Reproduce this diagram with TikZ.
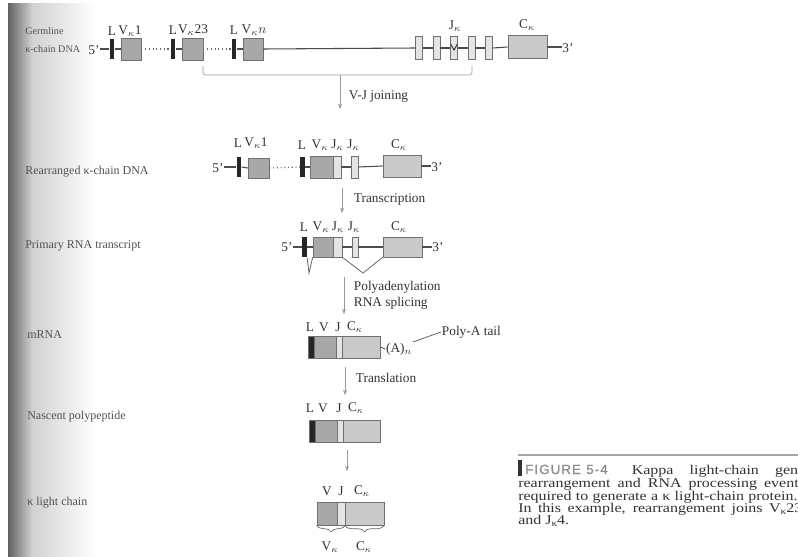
\documentclass[tikz,border=0pt]{standalone}
\usepackage{fontspec}
\setmainfont{Liberation Serif}
\newfontfamily\capsf[LetterSpace=8,FakeBold=0.6]{Liberation Sans}
\newfontfamily\capserif[FakeStretch=1.2]{Liberation Serif}
\usetikzlibrary{arrows.meta,decorations.pathreplacing}
\definecolor{vgray}{HTML}{A8A8A8}
\definecolor{cgray}{HTML}{CACACA}
\definecolor{jgray}{HTML}{E4E4E4}
\definecolor{edge}{HTML}{707070}
\definecolor{ink}{HTML}{333333}
\begin{document}
\begin{tikzpicture}[x=0.75pt,y=-0.75pt,
  txt/.style={font=\fontsize{10}{11}\selectfont, text=ink, inner sep=0.5pt},
  side/.style={font=\fontsize{9}{10}\selectfont, text=ink!85, anchor=west, inner sep=0pt},
  sidesm/.style={font=\fontsize{7.6}{9}\selectfont, text=ink!85, anchor=west, inner sep=0pt},
  captxt/.style={font=\capserif\fontsize{10}{11}\selectfont, text=ink, anchor=base west, inner sep=0pt},
  wd/.style={minimum width=#1*0.75pt},
  ht/.style={minimum height=#1*0.75pt},
  lbar/.style={fill=black!85, draw=none, inner sep=0pt, minimum width=3.5pt, minimum height=15.5pt},
  dbar/.style={fill=black!85, draw=edge, line width=0.5pt, inner sep=0pt},
  vb/.style={fill=vgray, draw=edge, line width=0.5pt, inner sep=0pt},
  cb/.style={fill=cgray, draw=edge, line width=0.5pt, inner sep=0pt},
  jb/.style={fill=jgray, draw=edge, line width=0.5pt, inner sep=0pt},
  dna/.style={draw=black!70, line width=0.8pt},
  dots/.style={draw=black!60, line width=0.8pt, dotted},
  arr/.style={draw=black!40, line width=0.5pt, -{Stealth[length=4pt,width=3pt]}},
  brk/.style={draw=black!40, line width=0.5pt, rounded corners=2pt},
  splice/.style={draw=black!60, line width=0.6pt},
  brc/.style={decorate, decoration={brace, mirror, amplitude=5pt}, draw=black!60, line width=0.5pt}
]
% page and scan shading
\path[use as bounding box] (0,0) rectangle (798,556);
\clip (0,0) rectangle (798,556);
\fill[white] (0,0) rectangle (798,556);
\shade[left color=black!62, right color=black!18] (8,4) rectangle (32,556);
\shade[left color=black!18, right color=white] (32,4) rectangle (95,556);

% ---------- left labels ----------
\node[sidesm] (sg1) at (25,31) {Germline};
\node[sidesm] (sg2) at (25,49) {κ-chain DNA};
\node[side] (sr) at (25,172) {Rearranged κ-chain DNA};
\node[side] (sp) at (25,246) {Primary RNA transcript};
\node[side] (sm) at (27,335) {mRNA};
\node[side] (sn) at (27,417) {Nascent polypeptide};
\node[side] (sk) at (27,503) {κ light chain};

% ---------- row 1: germline ----------
\node[txt] (g5) at (94,50) {5'};
\node[lbar] (gL1) at (112,49) {};
\node[vb, wd=20, ht=22] (gV1) at (131,49) {};
\node[lbar] (gL2) at (173,49) {};
\node[vb, wd=21, ht=22] (gV2) at (192.5,49) {};
\node[lbar] (gL3) at (234,49) {};
\node[vb, wd=20, ht=22] (gV3) at (253,49) {};
\foreach \i/\x in {1/419,2/436.5,3/454,4/471.5,5/489}
  \node[jb, wd=7, ht=23] (gJ\i) at (\x,48) {};
\node[cb, wd=39, ht=23] (gC) at (527.5,47) {};
\node[txt] (g3) at (568,48) {3'};
\draw[dna] (g5.east |- gL1.west) -- (gL1.west);
\draw[dna] (gL1.east) -- (gV1.west);
\draw[dots] (gV1.east) -- (gL2.west);
\draw[dna] (gL2.east) -- (gV2.west);
\draw[dots] (gV2.east) -- (gL3.west);
\draw[dna] (gL3.east) -- (gV3.west);
\draw[dna] (gV3.east) -- (gJ1.west);
\draw[dna] (gJ1.east) -- (gJ2.west);
\draw[dna] (gJ2.east) -- (gJ3.west);
\draw[dna] (gJ3.east) -- (gJ4.west);
\draw[dna] (gJ4.east) -- (gJ5.west);
\draw[dna] (gJ5.east) -- (gC.west);
\draw[dna] (gC.east) -- (g3.west |- gC.east);
\draw[black!75, line width=0.8pt] (gJ3.center) ++(-3.5,-4) -- ++(3.5,6) -- ++(3.5,-6);
\node[txt] (gl1) at (112,31) {L};
\node[txt] (gv1) at (130,31) {V$_\kappa$1};
\node[txt] (gl2) at (173,30) {L};
\node[txt] (gv2) at (193,30) {V$_\kappa$23};
\node[txt] (gl3) at (234,30) {L};
\node[txt] (gv3) at (254,30) {V$_\kappa n$};
\node[txt] (gjl) at (455,26) {J$_\kappa$};
\node[txt] (gcl) at (527,25) {C$_\kappa$};

% bracket and V-J joining
\coordinate (bl) at (203,66);
\coordinate (bm) at (340,75);
\coordinate (br) at (472,66);
\coordinate (a1) at (340,109);
\draw[brk] (bl) |- (bm) -| (br);
\draw[arr] (bm) -- (a1);
\node[txt, anchor=west] (vj) at (348,97) {V-J joining};

% ---------- row 2: rearranged ----------
\node[txt] (r5) at (218,168) {5'};
\node[lbar] (rL1) at (239,167) {};
\node[vb, wd=21, ht=20] (rV1) at (258.5,168) {};
\node[lbar] (rL) at (302.5,167) {};
\node[vb, wd=23, ht=22] (rV) at (321.5,167) {};
\node[jb, wd=8, ht=22] (rJf) at (337,167) {};
\node[jb, wd=7, ht=22] (rJ) at (354.5,167) {};
\node[cb, wd=38, ht=22] (rC) at (402,166) {};
\node[txt] (r3) at (437,167) {3'};
\draw[dna] (r5.east |- rL1.west) -- (rL1.west);
\draw[dna] (rL1.east) -- (rV1.west);
\draw[dots] (rV1.east) -- (rL.west);
\draw[dna] (rL.east) -- (rV.west);
\draw[dna] (rJf.east) -- (rJ.west);
\draw[dna] (rJ.east) -- (rC.west);
\draw[dna] (rC.east) -- (r3.west |- rC.east);
\node[txt] (rl1) at (238,143) {L};
\node[txt] (rv1) at (256,143) {V$_\kappa$1};
\node[txt] (rl) at (302,145) {L};
\node[txt] (rv) at (320,145) {V$_\kappa$};
\node[txt] (rj1) at (337.5,145) {J$_\kappa$};
\node[txt] (rj2) at (353.5,145) {J$_\kappa$};
\node[txt] (rc) at (399,145) {C$_\kappa$};

\coordinate (a2s) at (342,188);
\coordinate (a2e) at (342,213);
\draw[arr] (a2s) -- (a2e);
\node[txt, anchor=west] (tr) at (353,200) {Transcription};

% ---------- row 3: primary transcript ----------
\node[txt] (p5) at (287,247) {5'};
\node[lbar] (pL) at (304.5,247) {};
\node[vb, wd=20, ht=20] (pV) at (323,247) {};
\node[jb, wd=9, ht=20] (pJf) at (337.5,247) {};
\node[jb, wd=6, ht=20] (pJ) at (355,247) {};
\node[cb, wd=39, ht=20] (pC) at (402.5,247) {};
\node[txt] (p3) at (438,247) {3'};
\draw[dna] (p5.east |- pL.west) -- (pL.west);
\draw[dna] (pL.east) -- (pV.west);
\draw[dna] (pJf.east) -- (pJ.west);
\draw[dna] (pJ.east) -- (pC.west);
\draw[dna] (pC.east) -- (p3.west |- pC.east);
\coordinate (sp1) at (309,273);
\coordinate (sp2) at (363,273);
\draw[splice] (pL.south east) -- (sp1) -- (pV.south west);
\draw[splice] (pJf.south east) -- (sp2) -- (pC.south west);
\node[txt] (pl) at (304,227) {L};
\node[txt] (pv) at (321,227) {V$_\kappa$};
\node[txt] (pj1) at (338,227) {J$_\kappa$};
\node[txt] (pj2) at (354,227) {J$_\kappa$};
\node[txt] (pc) at (399,227) {C$_\kappa$};

\coordinate (a3s) at (344,277);
\coordinate (a3e) at (344,314);
\draw[arr] (a3s) -- (a3e);
\node[txt, anchor=west] (pa) at (353,287) {Polyadenylation};
\node[txt, anchor=west] (rs) at (353,303) {RNA splicing};

% ---------- row 4: mRNA ----------
\node[dbar, wd=6, ht=22] (mL) at (311,347) {};
\node[vb, wd=22, ht=22] (mV) at (325,347) {};
\node[jb, wd=6, ht=22] (mJ) at (339,347) {};
\node[cb, wd=38, ht=22] (mC) at (361,347) {};
\node[txt] (ml) at (310,327) {L};
\node[txt] (mv) at (324,327) {V};
\node[txt] (mj) at (338,327) {J};
\node[txt] (mc) at (355,327) {C$_\kappa$};
\node[txt] (mA) at (399,349) {(A)$_n$};
\node[txt, anchor=west] (poly) at (441,332) {Poly-A tail};
\draw[dna, line width=0.6pt] (mC.east) -- (mA.west);
\draw[black!70, line width=0.5pt] (mA.north east) -- (poly.west);

\coordinate (a4s) at (345,367);
\coordinate (a4e) at (345,395);
\draw[arr] (a4s) -- (a4e);
\node[txt, anchor=west] (tl) at (355,378) {Translation};

% ---------- row 5: nascent polypeptide ----------
\node[dbar, wd=6, ht=22] (nL) at (312,431) {};
\node[vb, wd=22, ht=22] (nV) at (326,431) {};
\node[jb, wd=6, ht=22] (nJ) at (340,431) {};
\node[cb, wd=37, ht=22] (nC) at (361.5,431) {};
\node[txt] (nl) at (310,408) {L};
\node[txt] (nv) at (323,408) {V};
\node[txt] (nj) at (339,408) {J};
\node[txt] (nc) at (356,408) {C$_\kappa$};

\coordinate (a5s) at (347,450);
\coordinate (a5e) at (347,471);
\draw[arr] (a5s) -- (a5e);

% ---------- row 6: kappa light chain ----------
\node[vb, wd=20, ht=23] (kV) at (327,513.5) {};
\node[jb, wd=8, ht=23] (kJ) at (341,513.5) {};
\node[cb, wd=39, ht=23] (kC) at (364.5,513.5) {};
\node[txt] (kv) at (327,491) {V};
\node[txt] (kj) at (341,491) {J};
\node[txt] (kc) at (362,491) {C$_\kappa$};
\draw[brc] (kV.south west) -- (kJ.south east);
\draw[brc] (kC.south west) -- (kC.south east);
\node[txt] (kvl) at (330,547) {V$_\kappa$};
\node[txt] (kcl) at (364,547) {C$_\kappa$};

% ---------- caption ----------
\draw[black!35, line width=1.5pt] (518,455) -- (798,455);
\fill[black!80] (518,460) rectangle (522,476);
\node[captxt] (c1) at (525,474) {\makebox[210pt][s]{{\capsf\fontsize{10}{11}\selectfont\color{black!45}FIGURE\hspace{4pt}5-4}\hspace{6pt} Kappa light-chain gene}};
\node[captxt] (c2) at (518,487) {\makebox[215pt][s]{rearrangement and RNA processing events}};
\node[captxt] (c3) at (518,500) {\makebox[209.5pt][s]{required to generate a κ light-chain protein.}};
\node[captxt] (c4) at (518,512) {\makebox[213pt][s]{In this example, rearrangement joins V\raisebox{-1.5pt}{\fontsize{7}{8}\selectfont κ}23}};
\node[captxt] (c5) at (518,524) {and J\raisebox{-1.5pt}{\fontsize{7}{8}\selectfont κ}4.};
\end{tikzpicture}
\end{document}
